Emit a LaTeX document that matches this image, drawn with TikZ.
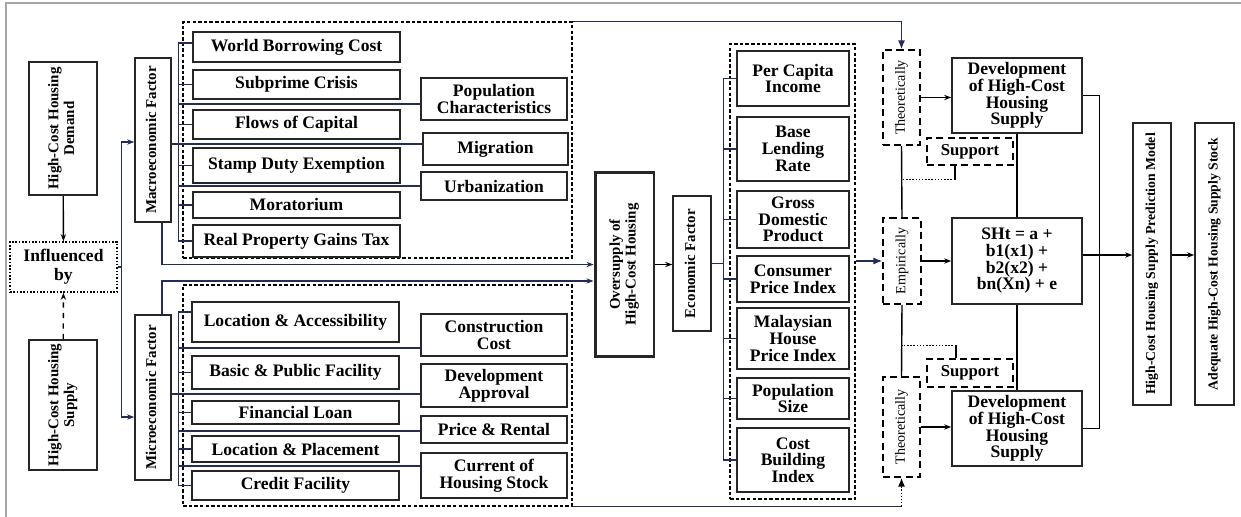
\documentclass[tikz,border=0pt]{standalone}
\usepackage{fontspec}
\setmainfont{Liberation Serif}
\usepackage{graphicx}
\usetikzlibrary{arrows.meta, positioning, calc}

\definecolor{linkblue}{RGB}{35,45,85}
\newcommand{\vtext}[1]{\rotatebox{90}{\begin{tabular}{@{}c@{}}#1\end{tabular}}}

\begin{document}
\begin{tikzpicture}[x=0.02cm, y=-0.02cm,
			box/.style={draw=black!85, line width=0.9pt, fill=white, align=center, inner sep=1pt, font=\bfseries\fontsize{10}{9.5}\selectfont},
			vbox/.style={draw=black!85, line width=0.9pt, fill=white, inner sep=0pt, font=\bfseries\fontsize{8.5}{9}\selectfont},
			group/.style={draw, dash pattern=on 2pt off 1.2pt, line width=0.7pt},
			hint/.style={draw, dash pattern=on 4pt off 2.5pt, line width=0.9pt, fill=white, align=center, inner sep=1pt},
			link/.style={draw=linkblue, line width=0.7pt},
			line/.style={draw=black, line width=0.8pt},
			arrow/.style={-{Stealth[length=4pt, width=3pt]}},
			bigarrow/.style={-{Latex[length=5pt, width=4pt]}}
			]
			\useasboundingbox (0,0) rectangle (1241,517);
			\draw[gray!70, line width=0.8pt] (6,517) -- (6,3) -- (1241,3);
			
			\node[vbox, minimum width=1.36cm, minimum height=2.66cm] (demand) at (63,128.5) {\vtext{High-Cost Housing\\Demand}};
			\node[draw, densely dotted, line width=0.9pt, minimum width=2.14cm, minimum height=1cm, align=center, font=\bfseries\fontsize{10}{11}\selectfont] (infl) at (63.5,267) {Influenced\\by};
			\node[vbox, minimum width=1.36cm, minimum height=2.6cm] (supply) at (63,405) {\vtext{High-Cost Housing\\Supply}};
			\node[vbox, minimum width=0.72cm, minimum height=3.28cm] (macro) at (153,140) {\vtext{Macroeconomic Factor}};
			\node[vbox, minimum width=0.72cm, minimum height=3.3cm] (micro) at (153,397.5) {\vtext{Microeconomic Factor}};
			
			\node[group, minimum width=7.78cm, minimum height=4.72cm] (macrogrp) at (377.5,140) {};
			\node[group, minimum width=7.78cm, minimum height=4.42cm] (microgrp) at (377.5,395.5) {};
			
			\node[box, minimum width=4.14cm, minimum height=0.6cm] (borrow) at (296.5,47) {World Borrowing Cost};
			\node[box, minimum width=4.14cm, minimum height=0.58cm] (subprime) at (296.5,84.5) {Subprime Crisis};
			\node[box, minimum width=4.14cm, minimum height=0.58cm] (capital) at (296.5,124.5) {Flows of Capital};
			\node[box, minimum width=4.14cm, minimum height=0.7cm] (stamp) at (296.5,165.5) {Stamp Duty Exemption};
			\node[box, minimum width=4.14cm, minimum height=0.52cm] (morat) at (296.5,205) {Moratorium};
			\node[box, minimum width=4.14cm, minimum height=0.64cm] (rpgt) at (296.5,241) {Real Property Gains Tax};
			\node[box, minimum width=2.92cm, minimum height=0.84cm] (popchar) at (494,99) {Population\\Characteristics};
			\node[box, minimum width=2.9cm, minimum height=0.64cm] (migration) at (495.5,149) {Migration};
			\node[box, minimum width=2.92cm, minimum height=0.56cm] (urban) at (494,186) {Urbanization};
			
			\node[box, minimum width=4.14cm, minimum height=0.8cm] (locacc) at (295.5,322) {Location \& Accessibility};
			\node[box, minimum width=4.14cm, minimum height=0.66cm] (facility) at (295.5,372.5) {Basic \& Public Facility};
			\node[box, minimum width=4.14cm, minimum height=0.46cm] (loan) at (295.5,412.5) {Financial Loan};
			\node[box, minimum width=4.14cm, minimum height=0.52cm] (locplace) at (295.5,449) {Location \& Placement};
			\node[box, minimum width=4.14cm, minimum height=0.58cm] (credit) at (295.5,485.5) {Credit Facility};
			\node[box, minimum width=2.92cm, minimum height=0.84cm] (constr) at (494,335) {Construction\\Cost};
			\node[box, minimum width=2.92cm, minimum height=0.86cm] (approval) at (494,385.5) {Development\\Approval};
			\node[box, minimum width=2.92cm, minimum height=0.54cm] (price) at (494,429.5) {Price \& Rental};
			\node[box, minimum width=2.92cm, minimum height=0.9cm] (hstock) at (494,475.5) {Current of\\Housing Stock};
			
			\node[vbox, line width=1.7pt, minimum width=1.18cm, minimum height=3.7cm] (overs) at (624.5,264.5) {\vtext{Oversupply of\\High-Cost Housing}};
			\node[vbox, minimum width=0.76cm, minimum height=2.7cm] (econ) at (692,263.5) {\vtext{Economic Factor}};
			
			\node[group, minimum width=2.5cm, minimum height=9.1cm] (econgrp) at (792.5,271.5) {};
			\node[box, minimum width=2.24cm, minimum height=1.1cm] (income) at (793,78.5) {Per Capita\\Income};
			\node[box, minimum width=2.24cm, minimum height=1.28cm] (lending) at (793,149) {Base\\Lending\\Rate};
			\node[box, minimum width=2.24cm, minimum height=1.14cm] (gdp) at (793,219.5) {Gross\\Domestic\\Product};
			\node[box, minimum width=2.24cm, minimum height=0.92cm] (cpi) at (793,279) {Consumer\\Price Index};
			\node[box, minimum width=2.24cm, minimum height=1.22cm] (hpi) at (793,338.5) {Malaysian\\House\\Price Index};
			\node[box, minimum width=2.24cm, minimum height=0.82cm] (popsize) at (793,398.5) {Population\\Size};
			\node[box, minimum width=2.24cm, minimum height=1.28cm] (cbi) at (793,460) {Cost\\Building\\Index};
			
			\node[hint, minimum width=0.74cm, minimum height=1.9cm, font=\fontsize{8}{9}\selectfont] (theory1) at (901.5,97.5) {\rotatebox{90}{Theoretically}};
			\node[hint, minimum width=0.76cm, minimum height=1.72cm, font=\fontsize{8}{9}\selectfont] (empir) at (902,261) {\rotatebox{90}{Empirically}};
			\node[hint, minimum width=0.74cm, minimum height=2cm, font=\fontsize{8}{9}\selectfont] (theory2) at (901.5,427) {\rotatebox{90}{Theoretically}};
			\node[hint, minimum width=1.72cm, minimum height=0.54cm, font=\bfseries\fontsize{9.5}{9.5}\selectfont] (support1) at (970,151.5) {Support};
			\node[hint, minimum width=1.72cm, minimum height=0.56cm, font=\bfseries\fontsize{9.5}{9.5}\selectfont] (support2) at (970,373) {Support};
			\node[box, minimum width=2.6cm, minimum height=1.5cm, font=\bfseries\fontsize{10}{9.5}\selectfont] (devtop) at (1017,95.5) {Development\\of High-Cost\\Housing\\Supply};
			\node[box, minimum width=2.6cm, minimum height=1.72cm, font=\bfseries\fontsize{10}{9.5}\selectfont] (model) at (1017,261) {SHt = a +\\b1(x1) +\\b2(x2) +\\bn(Xn) + e};
			\node[box, minimum width=2.6cm, minimum height=1.5cm, font=\bfseries\fontsize{10}{9.5}\selectfont] (devbottom) at (1017,428.5) {Development\\of High-Cost\\Housing\\Supply};
			\node[vbox, minimum width=0.76cm, minimum height=5.64cm, font=\bfseries\fontsize{7.8}{9}\selectfont] (predict) at (1152,264) {\vtext{High-Cost Housing Supply Prediction Model}};
			\node[vbox, minimum width=0.78cm, minimum height=5.64cm, font=\bfseries\fontsize{7.8}{9}\selectfont] (adequate) at (1214.5,264) {\vtext{Adequate High-Cost Housing Supply Stock}};
			
			\draw[line, arrow] (demand) -- (infl);
			\draw[line, dashed, arrow] (supply) -- (infl);
			\draw[link, arrow] (infl.east) -- ++(4,0) |- ($(macro.west)+(0,2)$);
			\draw[link, arrow] (infl.east) -- ++(4,0) |- ($(micro.west)+(0,19.5)$);
			
			\coordinate (macrobus) at ($(borrow.west)+(-14,-4)$);
			\draw[link] (macrobus) -- (macrobus |- rpgt.west);
			\draw[link] (macrobus) -- ++(14,0) (subprime.west) -- ++(-14,0) (capital.west) -- ++(-14,0) (stamp.west) -- ++(-14,0) (morat.west) -- ++(-14,0) (rpgt.west) -- ++(-14,0);
			\draw[link] ($(popchar.west)+(0,5)$) coordinate (pc) -- (pc -| macrobus);
			\draw[link] ($(macro.east)+(0,4)$) coordinate (mg) -- (mg -| migration.west);
			\draw[link] (urban.west) -- (urban.west -| macrobus);
			
			\coordinate (microbus) at ($(locacc.west)+(-13,-10)$);
			\draw[link] (microbus) -- (microbus |- credit.west);
			\draw[link] (microbus) -- ++(13,0) (facility.west) -- ++(-13,0) (loan.west) -- ++(-13,0) (locplace.west) -- ++(-13,0) (credit.west) -- ++(-13,0);
			\draw[link] ($(constr.west)+(0,13)$) coordinate (cc) -- (cc -| microbus);
			\draw[link] ($(micro.east)+(0,-3.5)$) coordinate (da) -- (da -| approval.west);
			\draw[link] ($(price.west)+(0,1.5)$) coordinate (pr) -- (pr -| microbus);
			\draw[link] ($(hstock.west)+(0,-9.5)$) coordinate (hs) -- (hs -| microbus);
			
			\draw[link, arrow] ($(macro.south)+(9,0)$) |- (overs.west);
			\draw[link, arrow] ($(micro.north)+(9,0)$) |- ($(overs.west)+(0,16.5)$);
			\draw[line, arrow] (overs.east) -- (overs.east -| econ.west);
			
			\coordinate (econbus) at ($(income.west)+(-13,0)$);
			\draw[link] (econbus) -- (econbus |- cbi.west);
			\draw[link] (econ.east) -- (econ.east -| econbus);
			\draw[link] (income.west) -- ++(-13,0) (lending.west) -- ++(-13,0) (gdp.west) -- ++(-13,0) (cpi.west) -- ++(-13,0) (hpi.west) -- ++(-13,0) (popsize.west) -- ++(-13,0) (cbi.west) -- ++(-13,0);
			
			\draw[link, bigarrow] (macrogrp.north east) -| (theory1.north);
			\draw[link] (microgrp.south east) -- (microgrp.south east -| theory2.south) coordinate (tb);
			\draw[line, densely dotted, bigarrow] (tb) -- (theory2.south);
			\draw[link, bigarrow] (econgrp.east |- empir.west) -- (empir.west);
			\draw[line] (theory1.south) -- (empir.north) (empir.south) -- (theory2.north);
			\draw[line, arrow] (theory1.east) -- (theory1.east -| devtop.west);
			\draw[line, arrow] (empir.east) -- (model.west);
			\draw[line, arrow] (theory2.east) -- (theory2.east -| devbottom.west);
			\draw[line] ($(support1.south)+(-15,0)$) -- ++(0,14) coordinate (s1);
			\draw[line, densely dotted] (s1) -- (s1 -| theory1.south);
			\draw[line] ($(support2.north)+(-14,0)$) -- ++(0,-13) coordinate (s2);
			\draw[line, densely dotted] (s2) -- (s2 -| theory1.south);
			\draw[line] (devtop.south) -- (model.north) (model.south) -- (devbottom.north);
			\draw[line] (devtop.east) -- ++(17,0) |- (devbottom.east);
			\draw[line, arrow] ($(model.east)+(0,-6)$) coordinate (eq) -- (eq -| predict.west);
			\draw[line, arrow] (predict.east |- eq) -- (adequate.west |- eq);
	\end{tikzpicture}
\end{document}
